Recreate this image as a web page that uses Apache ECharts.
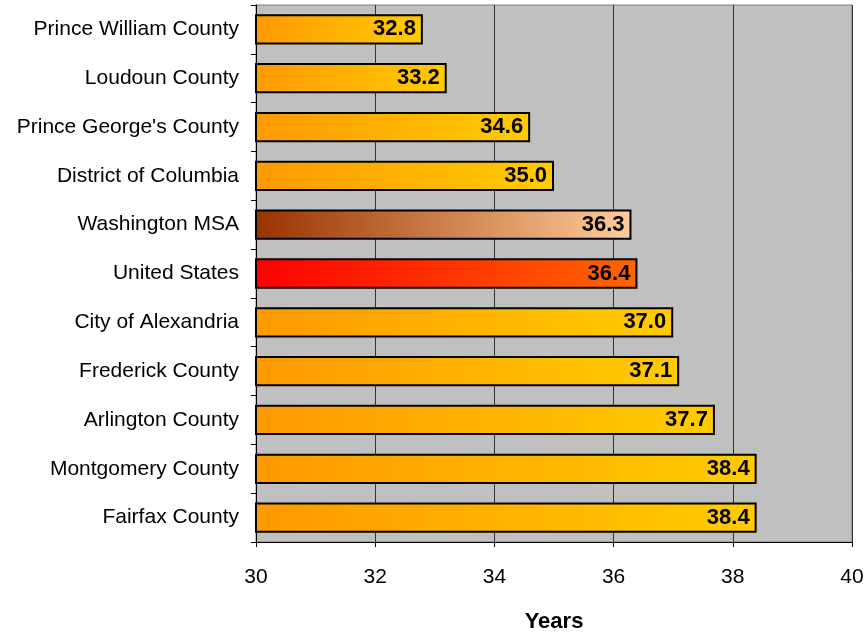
<!DOCTYPE html>
<html><head><meta charset="utf-8">
<script src="https://cdn.jsdelivr.net/npm/echarts@6/dist/echarts.min.js"></script>
<style>html,body{margin:0;padding:0;background:#fff}#c{width:864px;height:635px}</style>
</head><body><div id="c"></div>
<script>
const categories = ["Prince William County","Loudoun County","Prince George's County","District of Columbia","Washington MSA","United States","City of Alexandria","Frederick County","Arlington County","Montgomery County","Fairfax County"];
const values = [32.8,33.2,34.6,35.0,36.3,36.4,37.0,37.1,37.7,38.4,38.4];
const xTicks = [30,32,34,36,38,40];
const axisTitle = "Years";

function grad(a,b){return new echarts.graphic.LinearGradient(0,0,1,0,[{offset:0,color:a},{offset:1,color:b}]);}
const data = values.map((v,i)=>{
  let c;
  if (categories[i]==="Washington MSA") c = grad('#993300','#FFCC99');
  else if (categories[i]==="United States") c = grad('#FF0000','#FF6600');
  else c = grad('#FF9900','#FFCC00');
  return {value:v, itemStyle:{color:c}};
});
const chart = echarts.init(document.getElementById('c'));
chart.setOption({
  animation:false,
  grid:{left:256,right:12,top:5,bottom:93,containLabel:false,outerBoundsMode:'none',show:true,backgroundColor:'#C0C0C0',borderColor:'#808080',borderWidth:1},
  xAxis:{type:'value',min:xTicks[0],max:xTicks[xTicks.length-1],interval:2,
    name:axisTitle,nameLocation:'middle',nameGap:69,
    nameTextStyle:{fontFamily:'Liberation Sans',fontSize:22,fontWeight:'bold',color:'#000'},
    axisLine:{show:true,lineStyle:{color:'#000',width:1}},
    axisTick:{show:true,length:5,lineStyle:{color:'#000'}},
    axisLabel:{fontFamily:'Liberation Sans',fontSize:21,color:'#000',margin:25},
    splitLine:{show:true,lineStyle:{color:'#333',width:1}}},
  yAxis:{type:'category',data:categories,inverse:true,
    axisLine:{show:true,lineStyle:{color:'#000',width:1}},
    axisTick:{show:true,length:5,lineStyle:{color:'#000'}},
    axisLabel:{fontFamily:'Liberation Sans',fontSize:21,color:'#000',margin:17}},
  series:[{type:'bar',data:data,barCategoryGap:'38%',
    itemStyle:{borderColor:'#000',borderWidth:2},
    label:{show:true,position:'insideRight',offset:[-2,0],formatter:p=>p.value.toFixed(1),
      fontFamily:'Liberation Sans',fontSize:22,fontWeight:'bold',color:'#000'}}]
});
</script></body></html>
